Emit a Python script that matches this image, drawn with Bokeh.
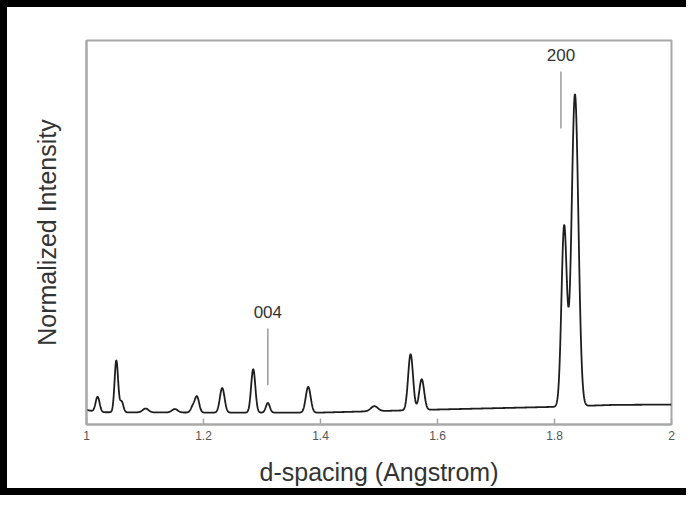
import numpy as np
from bokeh.plotting import figure
from bokeh.models import FixedTicker, Range1d, Label
from bokeh.embed import file_html
from bokeh.resources import INLINE

# ---- data ----
# diffraction peaks: d-spacing (Angstrom), height above baseline, gaussian sigma
peak_d = [1.019, 1.051, 1.060, 1.101, 1.151, 1.182, 1.189, 1.232, 1.285, 1.310,
          1.379, 1.492, 1.554, 1.573, 1.8165, 1.835]
peak_h = [0.040, 0.135, 0.028, 0.010, 0.009, 0.016, 0.040, 0.064, 0.113, 0.025,
          0.067, 0.013, 0.146, 0.080, 0.468, 0.812]
peak_w = [0.0034, 0.0030, 0.0030, 0.0050, 0.0050, 0.0036, 0.0036, 0.0040, 0.0036, 0.0034,
          0.0042, 0.0060, 0.0042, 0.0042, 0.0046, 0.0058]
# slowly varying background
base_d = [1.00, 1.02, 1.20, 1.40, 1.60, 1.80, 1.90, 2.00]
base_i = [0.038, 0.032, 0.031, 0.031, 0.039, 0.046, 0.051, 0.052]

tick_vals = [1.0, 1.2, 1.4, 1.6, 1.8, 2.0]
tick_labels = ["1", "1.2", "1.4", "1.6", "1.8", "2"]

ann_text = ["004", "200"]
ann_d = [1.310, 1.811]
ann_line_top = [0.250, 0.919]
ann_line_bottom = [0.102, 0.771]
ann_text_y = [0.292, 0.961]

# ---- build the profile ----
d = np.linspace(1.0, 2.0, 2501)
inten = np.interp(d, base_d, base_i)
for c, h, w in zip(peak_d, peak_h, peak_w):
    inten = inten + h * np.exp(-((d - c) ** 2) / (2 * w * w))

FONT = "Liberation Sans"

p = figure(width=686, height=495, output_backend="svg", toolbar_location=None,
           x_range=Range1d(1.0, 2.0), y_range=Range1d(0, 1),
           min_border_left=79, min_border_right=22, min_border_top=33, min_border_bottom=78,
           styles={"border-left": "7px solid black", "border-top": "7px solid black",
                   "border-bottom": "7px solid black"})
p.background_fill_color = "white"
p.border_fill_color = "white"
p.outline_line_color = "#a8a8a8"
p.outline_line_width = 2
p.xgrid.visible = False
p.ygrid.visible = False

p.line(d, inten, line_color="#1e1e1e", line_width=1.8)

for t, x, y0, y1, ty in zip(ann_text, ann_d, ann_line_bottom, ann_line_top, ann_text_y):
    p.segment(x0=[x], y0=[y0], x1=[x], y1=[y1], line_color="#8a8a8a", line_width=1.3)
    p.add_layout(Label(x=x, y=ty, text=t, text_align="center", text_baseline="middle",
                       text_font=FONT, text_font_size="17px", text_color="#333333"))

xa = p.xaxis[0]
xa.ticker = FixedTicker(ticks=tick_vals)
xa.major_label_overrides = {v: s for v, s in zip(tick_vals, tick_labels)}
xa.major_tick_in = 6
xa.major_tick_out = 0
xa.minor_tick_in = 0
xa.minor_tick_out = 0
xa.major_tick_line_color = "#a8a8a8"
xa.major_tick_line_width = 1.5
xa.axis_line_color = "#a8a8a8"
xa.axis_line_width = 2
xa.major_label_text_font = FONT
xa.major_label_text_font_size = "12px"
xa.major_label_text_color = "#555555"
xa.major_label_standoff = 6
xa.axis_label = "d-spacing (Angstrom)"
xa.axis_label_text_font = FONT
xa.axis_label_text_font_size = "25px"
xa.axis_label_text_font_style = "normal"
xa.axis_label_text_color = "#333333"
xa.axis_label_standoff = 15

ya = p.yaxis[0]
ya.ticker = FixedTicker(ticks=[])
ya.major_tick_in = 0
ya.major_tick_out = 0
ya.minor_tick_in = 0
ya.minor_tick_out = 0
ya.axis_line_color = "#a8a8a8"
ya.axis_line_width = 2
ya.axis_label = "Normalized Intensity"
ya.axis_label_text_font = FONT
ya.axis_label_text_font_size = "25px"
ya.axis_label_text_font_style = "normal"
ya.axis_label_text_color = "#333333"
ya.axis_label_standoff = 26

open("out.html", "w").write(file_html(p, INLINE))
